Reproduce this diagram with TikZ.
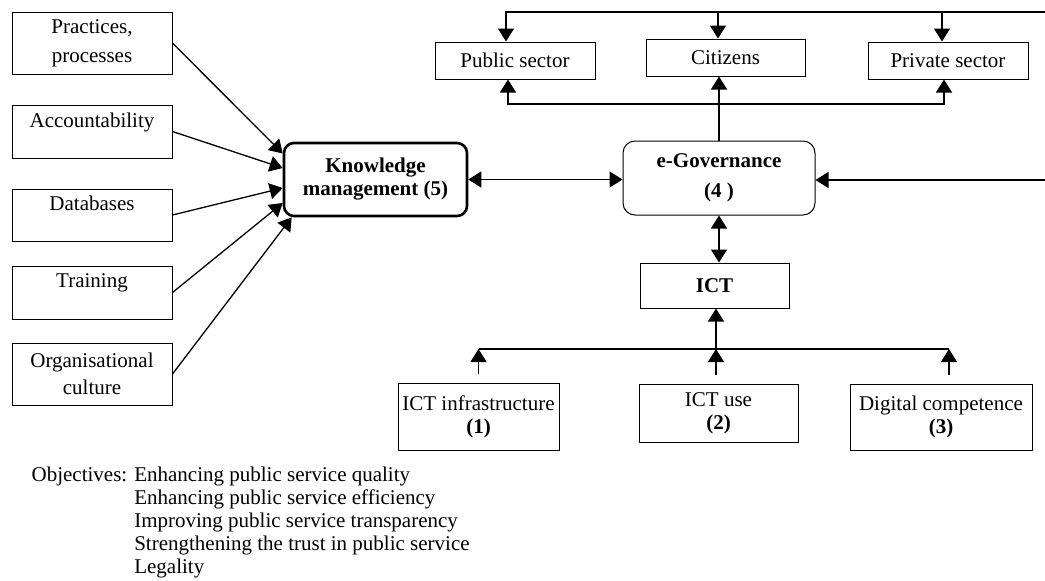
\documentclass[tikz,border=0pt]{standalone}
\usepackage{fontspec}
\setmainfont{Liberation Serif}
\usetikzlibrary{arrows.meta,positioning}

\begin{document}
\begin{tikzpicture}[x=0.5pt,y=-0.5pt,>={Triangle[length=6.5pt,width=8pt]},
                    line width=0.65pt,node distance=15pt,
                    font=\fontsize{10.5}{11.5}\selectfont,
                    box node/.style={draw,line width=0.5pt,align=center,inner sep=0pt,
                                     minimum width=80pt,minimum height=26.5pt},
                    bold text/.style={font=\fontsize{10.5}{11.5}\selectfont\bfseries},
                    core node/.style={box node,bold text,rounded corners=6pt}]
  \useasboundingbox (0,0) rectangle (1045,580);
  % factors of knowledge management
  \node[box node,minimum height=31pt] (prac) at (92,43) {Practices,\\[3pt]processes};
  \node[box node] (acc) [below=of prac] {Accountability\\\mbox{}};
  \node[box node,minimum height=26pt] (data) [below=of acc] {Databases\\\mbox{}};
  \node[box node] (train) [below=12pt of data] {Training\\\mbox{}};
  \node[box node,minimum height=31pt] (org) [below=11.5pt of train] {Organisational\\[2pt]culture};
  \node[core node,line width=1.3pt,rounded corners=5pt,minimum width=91.5pt,minimum height=36.5pt]
    (km) at (375.5,179.5) {Knowledge\\management (5)};
  \node[core node,minimum width=96pt,minimum height=37pt] (egov) at (719,178) {e-Governance\\[3.5pt](4 )};
  % actors
  \node[box node,minimum height=18.5pt] (pub) at (515,60.5) {Public sector};
  \node[box node,minimum width=79.5pt,minimum height=18.5pt] (cit) [right=25pt of pub,yshift=1.5pt] {Citizens};
  \node[box node,minimum height=18.5pt] (priv) [right=31pt of cit,yshift=-1.5pt] {Private sector};
  % ICT and its parts
  \node[box node,bold text,minimum width=74.5pt,minimum height=22.5pt] (ict) at (714.5,285.5) {ICT};
  \node[box node,minimum width=79.5pt,minimum height=29pt] (use) at (718.5,413) {ICT use\\\textbf{(2)}};
  \node[box node,minimum width=80.5pt,minimum height=33.5pt] (infra) [left=39.5pt of use,yshift=-1.75pt]
    {ICT infrastructure\\\textbf{(1)}};
  \node[box node,minimum width=91pt,minimum height=33pt] (dig) [right=25.5pt of use,yshift=-2pt]
    {Digital competence\\\textbf{(3)}};
  \node[anchor=north west,inner sep=0pt] (obj) at (31,465)
    {\begin{tabular}{@{}l@{ }l@{}}
       Objectives: & Enhancing public service quality\\
                   & Enhancing public service efficiency\\
                   & Improving public service transparency\\
                   & Strengthening the trust in public service\\
                   & Legality
     \end{tabular}};
  \coordinate (topR) at (1045,12);
  \coordinate (sideR) at (1045,180);
  \coordinate (hubT) at (719,104);
  \coordinate (hubB) at (716,349);

  \path[->]
    (prac.east)  edge ([yshift=13pt]km.west)
    (acc.east)   edge ([yshift=5.75pt]km.west)
    (data.east)  edge ([yshift=-4.25pt]km.west)
    (train.east) edge ([yshift=-11.75pt]km.west)
    (org.east)   edge ([xshift=4.5pt]km.south west);
  \draw[<->] (km.east) -- (km.east -| egov.west);
  \draw[->] (sideR) -- (sideR -| egov.east);
  % top bus
  \draw[->] (topR) -| ([xshift=-4.5pt]pub.north);
  \draw[->] ([xshift=-3.75pt]cit.north |- topR) -- ([xshift=-3.75pt]cit.north);
  \draw[->] ([xshift=-3pt]priv.north |- topR) -- ([xshift=-3pt]priv.north);
  % e-Governance to the actors
  \draw[->] (egov.north) -- (egov.north |- cit.south);
  \draw[->] (hubT) -| ([xshift=-3.5pt]pub.south);
  \draw[->] (hubT) -| ([xshift=-2pt]priv.south);
  % ICT
  \draw[<->] (egov.south) -- (egov.south |- ict.north);
  \draw[->] (hubB) -- (hubB |- ict.south);
  \draw (infra.north |- hubB) -- ([xshift=4pt]dig.north |- hubB);
  \draw[->,shorten <=4.5pt] (infra.north) -- (infra.north |- hubB);
  \draw[->,shorten <=4.5pt] (hubB |- use.north) -- (hubB);
  \draw[->,shorten <=4.5pt] ([xshift=4pt]dig.north) -- ([xshift=4pt]dig.north |- hubB);
\end{tikzpicture}
\end{document}
